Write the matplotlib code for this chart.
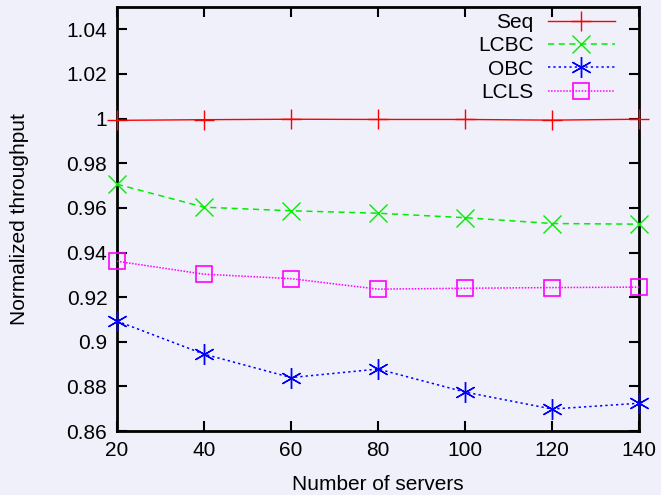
import matplotlib
matplotlib.use("Agg")
import matplotlib.pyplot as plt

plt.rcParams['font.family'] = ['Liberation Sans', 'DejaVu Sans']

# data --------------------------------------------------------------------
servers = [20, 40, 60, 80, 100, 120, 140]
seq  = [0.9992, 0.9995, 0.9997, 0.9996, 0.9996, 0.9993, 0.9997]
lcbc = [0.9706, 0.9603, 0.9587, 0.9576, 0.9556, 0.9530, 0.9527]
obc  = [0.9093, 0.8945, 0.8840, 0.8878, 0.8775, 0.8699, 0.8725]
lcls = [0.9361, 0.9303, 0.9283, 0.9236, 0.9240, 0.9243, 0.9245]

xticks = [20, 40, 60, 80, 100, 120, 140]
yticks = [0.86, 0.88, 0.9, 0.92, 0.94, 0.96, 0.98, 1, 1.02, 1.04]
ytick_labels = ["0.86", "0.88", "0.9", "0.92", "0.94", "0.96", "0.98", "1", "1.02", "1.04"]

# figure -------------------------------------------------------------------
bg = "#f0f0fb"
fig = plt.figure(figsize=(6.61, 4.95), dpi=100, facecolor=bg)
ax = fig.add_axes([0.177, 0.129, 0.790, 0.857])
ax.set_facecolor("none")

asterisk = (6, 2, 0)
kw = dict(clip_on=False, zorder=3)
ax.plot(servers, seq, color="#ff0000", lw=1, ls="-", marker="+", ms=15, mew=1, label="Seq", **kw)
ax.plot(servers, lcbc, color="#00ee00", lw=1.1, ls=(0, (4, 3)), marker="x", ms=13, mew=1, label="LCBC", **kw)
ax.plot(servers, obc, color="#0000ff", lw=1.1, ls=(0, (1.5, 2)), marker=asterisk, ms=15, mew=1,
        label="OBC", **kw)
ax.plot(servers, lcls, color="#ff00ff", lw=1.1, ls=(0, (1, 1)), marker="s", ms=12, mew=1.2,
        mfc="none", label="LCLS", **kw)

ax.set_xlim(20, 140)
ax.set_ylim(0.86, 1.05)
ax.set_xticks(xticks)
ax.set_yticks(yticks)
ax.set_yticklabels(ytick_labels)
ax.tick_params(direction="in", length=7, width=1.5, labelsize=15, top=True, right=True, pad=7)
for s in ax.spines.values():
    s.set_linewidth(2)

ax.set_xlabel("Number of servers", fontsize=15, labelpad=11)
ax.set_ylabel("Normalized throughput", fontsize=15, labelpad=27)

leg = ax.legend(loc="upper right", markerfirst=False, frameon=False, fontsize=15,
                handlelength=3.2, borderaxespad=0, borderpad=0, labelspacing=0.2,
                handletextpad=0.7, bbox_to_anchor=(0.953, 0.985))
for t in leg.get_texts():
    t.set_ha("right")
leg._legend_box.align = "right"

fig.savefig("out.png", dpi=100, facecolor=bg)
